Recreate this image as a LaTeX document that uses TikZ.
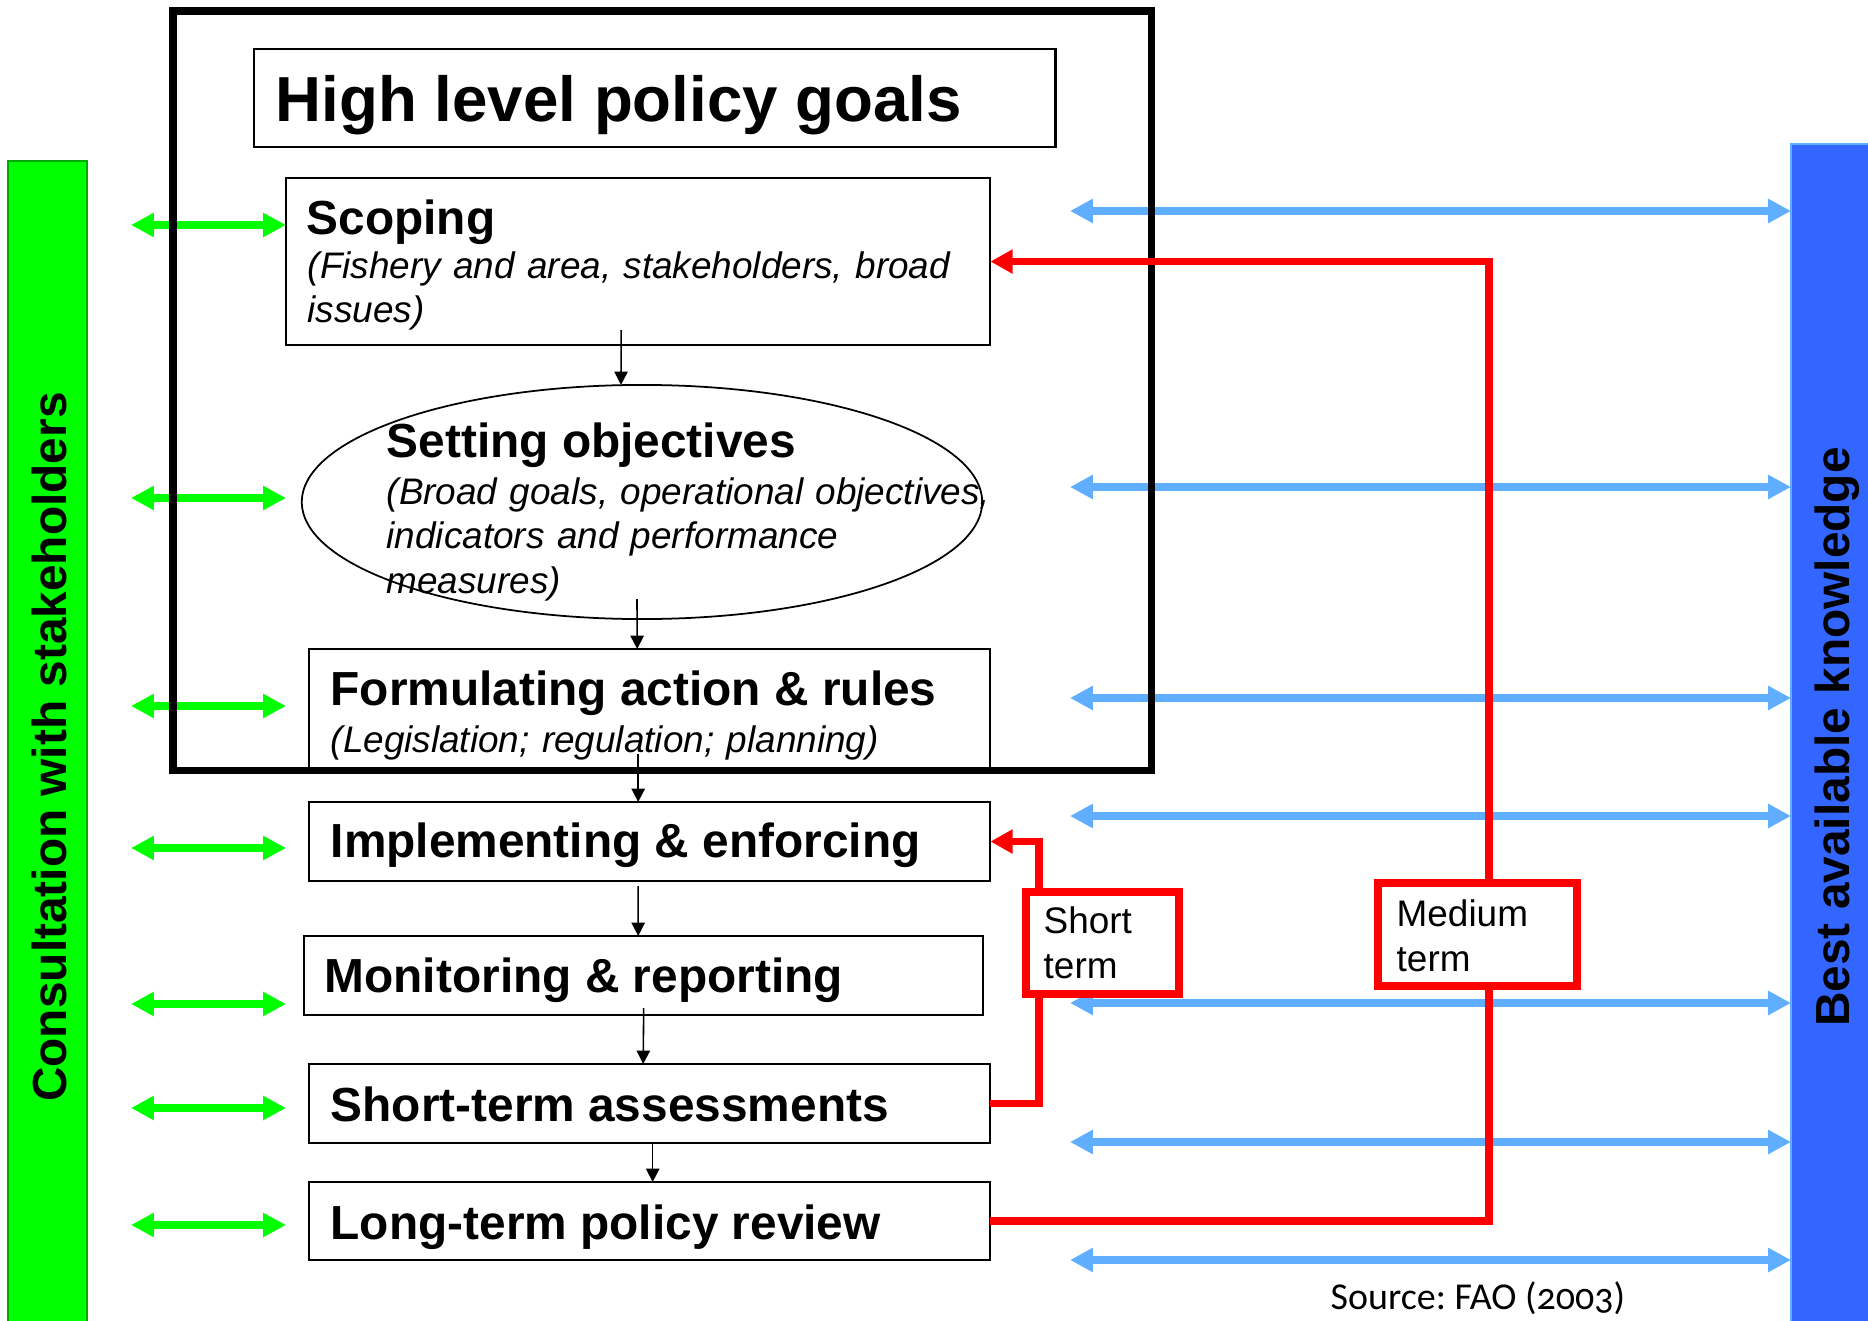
\documentclass[tikz,border=0pt]{standalone}
\usepackage{fontspec}
\setmainfont{Liberation Sans}
\newfontfamily\srcfont[Numbers=OldStyle]{Carlito}
\usetikzlibrary{arrows.meta,shapes.geometric}

\definecolor{barGreen}{HTML}{00FF00}
\definecolor{barGreenEdge}{HTML}{00A800}
\definecolor{barBlue}{HTML}{3366FF}
\definecolor{arrBlue}{HTML}{60AEFF}
\definecolor{fbRed}{HTML}{FF0000}

\tikzset{
  stepbox/.style={draw, line width=0.6pt, anchor=north west, inner sep=0pt, outer sep=0pt},
  steptitle/.style={anchor=base west, inner sep=0pt, font=\fontsize{13.6}{16}\selectfont\bfseries},
  stepnote/.style={anchor=base west, inner sep=0pt, align=left, text width=7cm, font=\fontsize{10.5}{12.7}\selectfont\itshape},
  flow/.style={-{Triangle[length=3.8pt,width=3.8pt]}, line width=0.45pt},
  consult/.style={{Triangle[length=6.5pt,width=6.5pt]}-{Triangle[length=6.5pt,width=6.5pt]}, line width=2pt, barGreen},
  knowarrow/.style={{Triangle[length=6.5pt,width=6.5pt]}-{Triangle[length=6.5pt,width=6.5pt]}, line width=2.2pt, arrBlue},
  feedback/.style={-{Triangle[length=6.3pt,width=6.5pt]}, line width=2.2pt, fbRed},
  termbox/.style={draw=fbRed, line width=2.2pt, fill=white, anchor=north west, inner sep=0pt, outer sep=0pt},
  termtext/.style={anchor=base west, inner sep=0pt, align=left, text width=3cm, font=\fontsize{10.5}{12.8}\selectfont},
  sidelabel/.style={rotate=90, anchor=base, inner sep=0pt, font=\fontsize{13.6}{16}\selectfont\bfseries}
}

\begin{document}
\begin{tikzpicture}[x=0.01cm,y=-0.01cm]
\useasboundingbox (0,0) rectangle (1868,1321);

\node[draw=barGreenEdge, fill=barGreen, line width=0.5pt, anchor=north west, inner sep=0pt, outer sep=0pt,
      minimum width=0.79cm, minimum height=11.8cm] (consultbar) at (8,161) {};
\node[sidelabel] (consultlbl) at (67,747) {Consultation with stakeholders};

\node[draw=arrBlue, fill=barBlue, line width=0.5pt, anchor=north west, inner sep=0pt, outer sep=0pt,
      minimum width=0.9cm, minimum height=11.9cm] (knowbar) at (1791,144) {};
\node[sidelabel] (knowlbl) at (1849,737) {Best available knowledge};

\foreach \y [count=\i] in {225,498,706,848,1004,1108,1225} {
  \coordinate (cs\i) at (131,\y);
  \coordinate (ct\i) at (286,\y);
  \draw[consult] (cs\i) -- (ct\i);
}

\foreach \y [count=\i] in {211,487,698,816,1003,1142,1260} {
  \coordinate (ks\i) at (1070,\y);
  \draw[knowarrow] (ks\i) -- (ks\i -| knowbar.west);
}

\node[draw, line width=2pt, anchor=north west, inner sep=0pt, outer sep=0pt,
      minimum width=9.78cm, minimum height=7.59cm] (policyframe) at (173,11) {};

\node[stepbox, minimum width=8.01cm, minimum height=0.98cm] (goals) at (254,49) {};
\node[anchor=base west, inner sep=0pt, font=\fontsize{18.1}{21}\selectfont\bfseries] (goalstxt) at (275,121) {High level policy goals};

\node[stepbox, minimum width=7.04cm, minimum height=1.67cm] (scope) at (286,178) {};
\node[steptitle] (scopetxt) at (306,234) {Scoping};
\node[stepnote] (scopenote) at (307,278) {(Fishery and area, stakeholders, broad\\issues)};

\node[draw, ellipse, line width=0.5pt, inner sep=0pt, outer sep=0pt, minimum width=6.80cm, minimum height=2.34cm] (objective) at (642,502) {};
\node[steptitle] (objtxt) at (386,457) {Setting objectives};
\node[stepnote] (objnote) at (386,504) {(Broad goals, operational objectives,\\indicators and performance\\measures)};

\node[stepbox, minimum width=6.81cm, minimum height=1.23cm] (formulate) at (309,649) {};
\node[steptitle] (formtxt) at (330,705) {Formulating action \& rules};
\node[stepnote] (formnote) at (330,752) {(Legislation; regulation; planning)};

\node[stepbox, minimum width=6.81cm, minimum height=0.79cm] (implement) at (309,802) {};
\node[steptitle] (impltxt) at (330,857) {Implementing \& enforcing};

\node[stepbox, minimum width=6.79cm, minimum height=0.79cm] (monitor) at (304,936) {};
\node[steptitle] (montxt) at (324,992) {Monitoring \& reporting};

\node[stepbox, minimum width=6.81cm, minimum height=0.79cm] (shortassess) at (309,1064) {};
\node[steptitle] (satxt) at (330,1121) {Short-term assessments};

\node[stepbox, minimum width=6.81cm, minimum height=0.78cm] (review) at (309,1182) {};
\node[steptitle] (revtxt) at (330,1239) {Long-term policy review};

\draw[flow] ([xshift=-0.17cm,yshift=0.15cm]scope.south) -- ([xshift=-0.21cm]objective.north);
\draw[flow] ([xshift=-0.05cm,yshift=0.2cm]objective.south) -- ([xshift=-0.125cm]formulate.north);
\draw[flow] ([xshift=-0.115cm,yshift=0.18cm]formulate.south) -- ([xshift=-0.115cm]implement.north);
\draw[flow] ([xshift=-0.115cm,yshift=-0.05cm]implement.south) -- ([xshift=-0.055cm]monitor.north);
\draw[flow] ([yshift=0.07cm]monitor.south) -- ([xshift=-0.065cm]shortassess.north);
\draw[flow] ([xshift=0.03cm]shortassess.south) -- ([xshift=0.03cm]review.north);

\coordinate (medx) at (1489,0);
\coordinate (shortx) at (1039,0);
\draw[feedback] (review.east) -| (medx |- scope.east) -- (scope.east);
\draw[feedback] (shortassess.east) -| (shortx |- implement.east) -- (implement.east);

\node[termbox, minimum width=1.53cm, minimum height=1.02cm] (shortbox) at (1026,892) {};
\node[termtext] (shortlbl) at (1043,933) {Short\\term};
\node[termbox, minimum width=1.99cm, minimum height=1.03cm] (medbox) at (1378,883) {};
\node[termtext] (medlbl) at (1396,926) {Medium\\term};

\node[anchor=base west, inner sep=0pt, font=\srcfont\fontsize{10.8}{13}\selectfont] (source) at (1330,1309) {\frenchspacing Source: FAO (2003)};
\end{tikzpicture}
\end{document}
